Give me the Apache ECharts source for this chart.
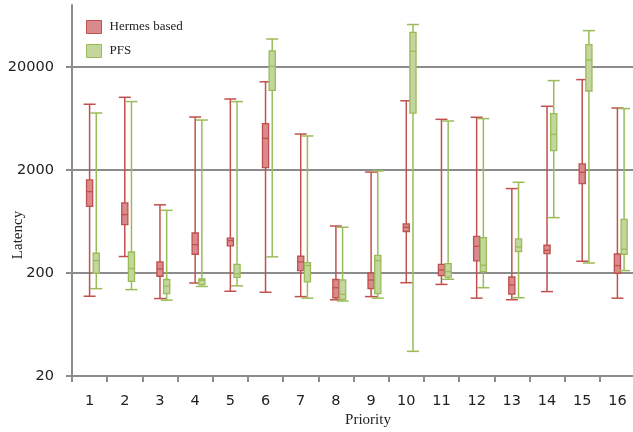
<!DOCTYPE html>
<html>
<head>
<meta charset="utf-8">
<script src="https://cdn.jsdelivr.net/npm/echarts@6/dist/echarts.min.js"></script>
<style>html,body{margin:0;padding:0;background:#fff}#c{width:633px;height:432px}</style>
</head>
<body>
<div id="c"></div>
<script>
// Categories (priority levels)
const categories = ['1','2','3','4','5','6','7','8','9','10','11','12','13','14','15','16'];
// Series names
const seriesNames = ['Hermes based', 'PFS'];
// Box statistics per category: [min, q1, median, q3, max]
const hermesBoxes = [
  [119, 888, 1234, 1607, 8700],
  [289, 590, 738, 960, 10160],
  [113, 186, 219, 256, 919],
  [160, 304, 377, 489, 6540],
  [133, 366, 413, 437, 9780],
  [130, 2110, 4060, 5640, 14370],
  [118, 211, 256, 291, 4470],
  [110, 115, 144, 173, 572],
  [118, 141, 171, 200, 1910],
  [161, 506, 556, 601, 9400],
  [155, 189, 214, 243, 6210],
  [114, 262, 363, 454, 6500],
  [110, 125, 153, 183, 1320],
  [132, 309, 332, 372, 8310],
  [260, 1476, 1900, 2290, 15090],
  [114, 199, 236, 306, 8000]
];
const pfsBoxes = [
  [141, 199, 264, 311, 7150],
  [138, 166, 221, 320, 9230],
  [109, 126, 149, 173, 812],
  [148, 154, 170, 175, 6110],
  [150, 181, 197, 243, 9230],
  [287, 11880, 20320, 28600, 37400],
  [114, 164, 236, 252, 4280],
  [107, 111, 124, 171, 556],
  [114, 126, 264, 297, 1960],
  [34.7, 7140, 28400, 43400, 51700],
  [174, 182, 206, 247, 5980],
  [144, 206, 238, 441, 6310],
  [115, 323, 358, 428, 1520],
  [690, 3085, 4440, 7060, 14760],
  [250, 11700, 23400, 33000, 45100],
  [211, 304, 340, 664, 7900]
];
// Y tick labels (log scale)
const yTicks = [20, 200, 2000, 20000];
const yMax = 80000;

const RED = '#c0504d', RED_FILL = '#d98a8d';
const GREEN = '#9bbb59', GREEN_FILL = '#c3d69b';
const GRAY = '#8c8c8c';

function makeRender(offsetFrac, stroke, fill) {
  return function (params, api) {
    const cat = api.value(0);
    const band = api.size([1, 1], [cat, 100])[0];
    const cx = api.coord([cat, 100])[0] + offsetFrac * band;
    const yMin = api.coord([cat, api.value(1)])[1];
    const yQ1 = api.coord([cat, api.value(2)])[1];
    const yMed = api.coord([cat, api.value(3)])[1];
    const yQ3 = api.coord([cat, api.value(4)])[1];
    const yMx = api.coord([cat, api.value(5)])[1];
    const boxW = band * 0.175;
    const capW = band * 0.34;
    const ls = { stroke: stroke, lineWidth: 1.5 };
    return {
      type: 'group',
      children: [
        { type: 'line', shape: { x1: cx, y1: yMin, x2: cx, y2: yQ1 }, style: ls },
        { type: 'line', shape: { x1: cx, y1: yQ3, x2: cx, y2: yMx }, style: ls },
        { type: 'line', shape: { x1: cx - capW / 2, y1: yMin, x2: cx + capW / 2, y2: yMin }, style: ls },
        { type: 'line', shape: { x1: cx - capW / 2, y1: yMx, x2: cx + capW / 2, y2: yMx }, style: ls },
        { type: 'rect', shape: { x: cx - boxW / 2, y: yQ3, width: boxW, height: yQ1 - yQ3 },
          style: { fill: fill, stroke: stroke, lineWidth: 1.3 } },
        { type: 'line', shape: { x1: cx - boxW / 2, y1: yMed, x2: cx + boxW / 2, y2: yMed }, style: { stroke: stroke, lineWidth: 1.3 } }
      ]
    };
  };
}

function toData(boxes) {
  return boxes.map(function (b, i) { return [i].concat(b); });
}

const chart = echarts.init(document.getElementById('c'), null, { renderer: 'canvas' });
const tickLogs = yTicks.map(function (v) { return Math.log10(v); });
chart.setOption({
  backgroundColor: '#ffffff',
  animation: false,
  grid: { left: 72, right: -2, top: 5, bottom: 56, containLabel: false, outerBoundsMode: 'none' },
  legend: {
    orient: 'vertical', left: 81, top: 15, itemWidth: 15, itemHeight: 13, itemGap: 10,
    textStyle: { fontFamily: 'Liberation Serif', fontSize: 13, color: '#222', padding: [0, 0, 0, 3] },
    data: [
      { name: seriesNames[0], icon: 'rect', itemStyle: { color: RED_FILL, borderColor: RED, borderWidth: 1 } },
      { name: seriesNames[1], icon: 'rect', itemStyle: { color: GREEN_FILL, borderColor: GREEN, borderWidth: 1 } }
    ]
  },
  xAxis: {
    type: 'category', data: categories, boundaryGap: true,
    name: 'Priority', nameLocation: 'middle', nameGap: 37, nameMoveOverlap: false,
    nameTextStyle: { fontFamily: 'Liberation Serif', fontSize: 15, color: '#222', padding: [0, 0, 0, 29] },
    axisLine: { lineStyle: { color: GRAY, width: 2 } },
    axisTick: { show: true, length: 6, lineStyle: { color: GRAY, width: 2 } },
    axisLabel: { fontFamily: 'DejaVu Sans', fontSize: 14.5, color: '#222', margin: 18 },
    splitLine: { show: false }
  },
  yAxis: [
    {
      type: 'log', logBase: 10, min: yTicks[0], max: yMax,
      axisLine: { show: true, lineStyle: { color: GRAY, width: 2 } },
      axisTick: { show: false }, axisLabel: { show: false }, splitLine: { show: false }, minorTick: { show: false }
    },
    {
      type: 'value', position: 'left', min: Math.log10(yTicks[0]), max: Math.log10(yMax), interval: 1,
      name: 'Latency', nameLocation: 'middle', nameGap: 46, nameRotate: 90, nameMoveOverlap: false,
      nameTextStyle: { fontFamily: 'Liberation Serif', fontSize: 15, color: '#222', padding: [0, 89, 0, 0] },
      axisLine: { show: false },
      axisTick: { show: true, length: 6, lineStyle: { color: GRAY, width: 2 }, customValues: tickLogs },
      axisLabel: {
        fontFamily: 'DejaVu Sans', fontSize: 14.5, color: '#222', margin: 18,
        customValues: tickLogs,
        formatter: function (v) { return String(Math.round(Math.pow(10, v))); }
      },
      splitLine: { show: true, lineStyle: { color: GRAY, width: 2 } }
    }
  ],
  series: [
    {
      name: seriesNames[0], type: 'custom', xAxisIndex: 0, yAxisIndex: 0,
      itemStyle: { color: RED_FILL, borderColor: RED },
      encode: { x: 0, y: [1, 2, 3, 4, 5] },
      renderItem: makeRender(0, RED, RED_FILL),
      data: toData(hermesBoxes), z: 3
    },
    {
      name: seriesNames[1], type: 'custom', xAxisIndex: 0, yAxisIndex: 0,
      itemStyle: { color: GREEN_FILL, borderColor: GREEN },
      encode: { x: 0, y: [1, 2, 3, 4, 5] },
      renderItem: makeRender(0.19, GREEN, GREEN_FILL),
      data: toData(pfsBoxes), z: 3
    }
  ]
});
</script>
</body>
</html>
